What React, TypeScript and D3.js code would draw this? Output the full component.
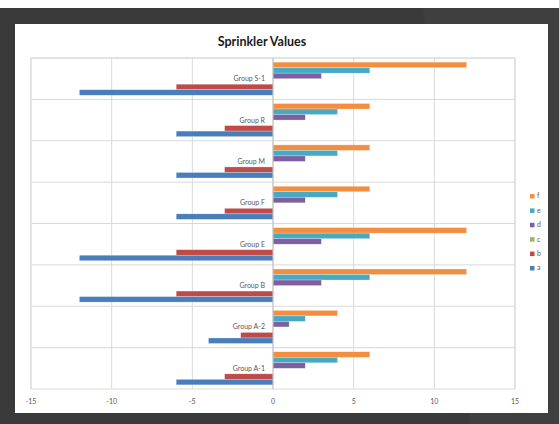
import * as d3 from 'd3';
import React from 'react';

// groups listed bottom to top, as on the chart
const groups = ['Group A-1', 'Group A-2', 'Group B', 'Group E', 'Group F', 'Group M', 'Group R', 'Group S-1'];
const keys = ['f', 'e', 'd', 'c', 'b', 'a'];

const seriesA = [-6, -4, -12, -12, -6, -6, -6, -12];
const seriesB = [-3, -2, -6, -6, -3, -3, -3, -6];
const seriesC = [0, 0, 0, 0, 0, 0, 0, 0];
const seriesD = [2, 1, 3, 3, 2, 2, 2, 3];
const seriesE = [4, 2, 6, 6, 4, 4, 4, 6];
const seriesF = [6, 4, 12, 12, 6, 6, 6, 12];

const xTicks = [-15, -10, -5, 0, 5, 10, 15];

const colors = {
  a: '#4A7EBB',
  b: '#BE4B48',
  c: '#98B954',
  d: '#7D60A0',
  e: '#46AAC5',
  f: '#F38D3F',
};

const App = () => {
  const W = 559, H = 424;
  const margin = { top: 58, right: 44, bottom: 35, left: 31 };
  const width = W - margin.left - margin.right;
  const height = H - margin.top - margin.bottom;

  const values = { a: seriesA, b: seriesB, c: seriesC, d: seriesD, e: seriesE, f: seriesF };

  const x = d3.scaleLinear().domain([-15, 15]).range([0, width]);
  // reversed so the first group sits at the bottom
  const y0 = d3.scaleBand().domain(groups.slice().reverse()).range([0, height]);
  const y1 = d3.scaleBand().domain(keys).range([0, y0.bandwidth()]).paddingOuter(0.75);

  const grid = '#d9d9d9';
  const txt = '#595959';
  const font = 'Lato, "Open Sans", sans-serif';

  return (
    <svg width={W} height={H} style={{ position: 'absolute', left: 0, top: 0 }}>
      <rect x={0} y={0} width={W} height={H} fill="#fff" />
      <rect x={0} y={8} width={W} height={H - 8} fill="#3a3a3a" />
      <polygon points={`423,8 ${W},8 ${W},${H} 470,${H}`} fill="#424242" opacity={0.6} />
      <rect x={15} y={24} width={533} height={389} fill="#fff" />

      <text x={262} y={46} textAnchor="middle" fontFamily={font} fontWeight="bold" fontSize={12.5} fill="#1a1a1a">
        Sprinkler Values
      </text>

      <g transform={`translate(${margin.left},${margin.top})`}>
        {xTicks.map(t => (
          <line key={t} x1={x(t)} x2={x(t)} y1={0} y2={height} stroke={grid} strokeWidth={1} />
        ))}
        {groups.map(g => (
          <line key={g} x1={0} x2={width} y1={y0(g)} y2={y0(g)} stroke={grid} strokeWidth={1} />
        ))}
        <rect x={0} y={0} width={width} height={height} fill="none" stroke={grid} />

        {groups.map((g, i) => (
          <g key={g} transform={`translate(0,${y0(g)})`}>
            {keys.map(k => {
              const v = values[k][i];
              if (v === 0) return null;
              return (
                <rect
                  key={k}
                  x={x(Math.min(0, v))}
                  y={y1(k)}
                  width={Math.abs(x(v) - x(0))}
                  height={y1.bandwidth()}
                  fill={colors[k]}
                  stroke="#ffffff"
                  strokeOpacity={0.5}
                  strokeWidth={0.5}
                />
              );
            })}
            <text
              x={x(0) - 8}
              y={y0.bandwidth() / 2}
              dy="0.35em"
              textAnchor="end"
              fontFamily={font}
              fontSize={7}
              fill={txt}
            >
              {g}
            </text>
          </g>
        ))}

        <line x1={x(0)} x2={x(0)} y1={0} y2={height} stroke="#bfbfbf" />

        {xTicks.map(t => (
          <text key={t} x={x(t)} y={height + 15} textAnchor="middle" fontFamily={font} fontSize={7} fill={txt}>
            {t}
          </text>
        ))}
      </g>

      <g transform="translate(530,196)">
        {keys.map((k, i) => (
          <g key={k} transform={`translate(0,${i * 14.4})`}>
            <rect x={0} y={-2} width={4.5} height={4.5} fill={colors[k]} />
            <text x={7} y={0} dy="0.35em" fontFamily={font} fontSize={7} fill={txt}>
              {k}
            </text>
          </g>
        ))}
      </g>
    </svg>
  );
};

export default App;
